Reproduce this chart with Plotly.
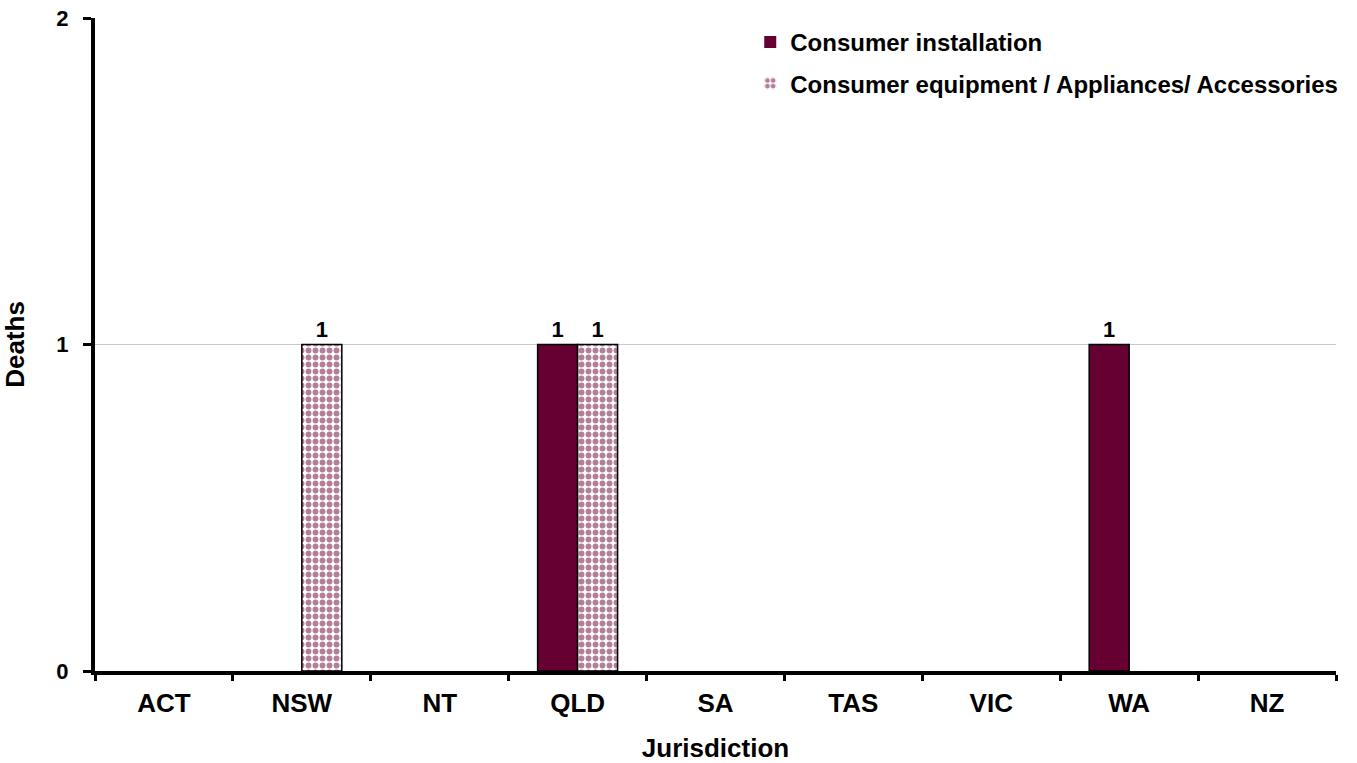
import plotly.graph_objects as go

categories = ["ACT", "NSW", "NT", "QLD", "SA", "TAS", "VIC", "WA", "NZ"]
installation = [0, 0, 0, 1, 0, 0, 0, 1, 0]
equipment = [0, 1, 0, 1, 0, 0, 0, 0, 0]
series_names = ["Consumer installation", "Consumer equipment / Appliances/ Accessories"]
y_ticks = [0, 1, 2]

MAROON = "#660033"
FONT = "Liberation Sans, Arial, sans-serif"
FS_AX = 26
FS_LEG = 24
FS_LBL = 22

def labels(vals):
    return [str(v) if v else "" for v in vals]

def outline(vals):
    return [1.5 if v else 0 for v in vals]

fig = go.Figure()
fig.add_trace(go.Bar(
    x=categories, y=installation, name=series_names[0],
    marker=dict(color=MAROON, line=dict(color="black", width=outline(installation))),
    text=labels(installation), textposition="outside",
    legendgroup="a",
))
fig.add_trace(go.Bar(
    x=categories, y=equipment, name=series_names[1],
    marker=dict(color="white", line=dict(color="black", width=outline(equipment)),
                pattern=dict(shape=".", fgcolor=MAROON, bgcolor="white",
                             size=7, solidity=0.55, fillmode="overlay")),
    text=labels(equipment), textposition="outside",
    legendgroup="b",
))

fig.update_traces(textfont=dict(family=FONT, size=FS_LBL, color="black", weight="bold"),
                  cliponaxis=False)

fig.update_layout(
    width=1357, height=763,
    paper_bgcolor="white", plot_bgcolor="white",
    margin=dict(l=95, r=21, t=18, b=92, autoexpand=False),
    barmode="group", bargap=0.42, bargroupgap=0,
    font=dict(family=FONT, size=FS_AX, color="black", weight="bold"),
    showlegend=True,
    legend=dict(x=0.528, y=0.997, xanchor="left", yanchor="top",
                font=dict(family=FONT, size=FS_LEG, color="black", weight="bold"),
                traceorder="grouped", tracegroupgap=7,
                itemwidth=30, bgcolor="rgba(0,0,0,0)"),
    xaxis=dict(
        showline=True, linecolor="black", linewidth=4,
        ticks="outside", tickson="boundaries", ticklen=6, tickwidth=3, tickcolor="black",
        ticklabelstandoff=6,
        showgrid=False, automargin=False,
        tickfont=dict(family=FONT, size=FS_AX, color="black", weight="bold"),
        title=dict(text="Jurisdiction", standoff=30,
                   font=dict(family=FONT, size=FS_AX, color="black", weight="bold")),
    ),
    yaxis=dict(
        range=[0, 2], tickvals=y_ticks,
        showline=True, linecolor="black", linewidth=4,
        ticks="outside", ticklen=8, tickwidth=3, tickcolor="black",
        ticklabelstandoff=10,
        showgrid=True, gridcolor="#c8c8c8", gridwidth=1,
        zeroline=False, automargin=False,
        tickfont=dict(family=FONT, size=FS_LBL, color="black", weight="bold"),
        title=dict(text="Deaths", standoff=30,
                   font=dict(family=FONT, size=FS_AX, color="black", weight="bold")),
    ),
)

fig.write_html(
    "out.html",
    config={"displayModeBar": False},
    post_script="document.body.style.margin='0';document.body.style.overflow='hidden';",
)
